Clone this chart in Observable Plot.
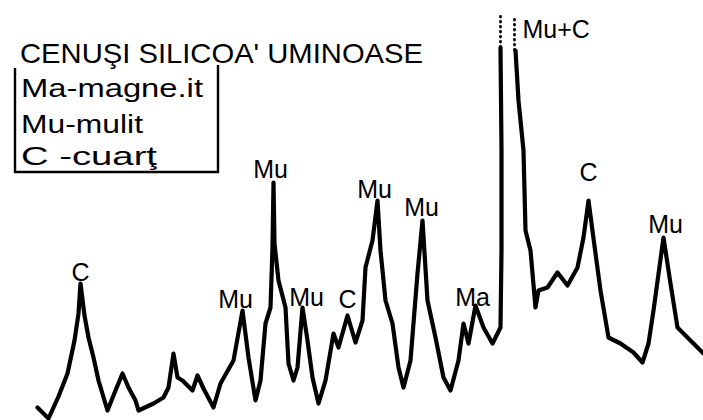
<!DOCTYPE html>
<html>
<head>
<meta charset="utf-8">
<script src="https://cdn.jsdelivr.net/npm/d3@7"></script>
<script src="https://cdn.jsdelivr.net/npm/@observablehq/plot@0.6"></script>
<style>
  html, body { margin: 0; padding: 0; background: #fff; }
  #chart { width: 703px; height: 420px; }
</style>
</head>
<body>
<div id="chart"></div>
<script>
// Diffractogram of silico-aluminous fly ash: scan position vs. intensity (counts)
const scanPos = [
  37, 48, 58, 67, 74, 78, 80, 84, 88, 93, 98, 107, 115, 122, 128, 135, 138, 153, 163, 168,
  173, 177, 182, 192, 197, 203, 213, 220, 233, 242, 248, 255, 260, 265, 270, 272, 273, 274, 278, 285,
  288, 293, 297, 302, 307, 312, 318, 325, 333, 338, 347, 355, 362, 365, 372, 377, 380, 385, 392, 398,
  403, 410, 417, 422, 427, 435, 443, 450, 458, 463, 468, 475, 483, 492, 500, 501, 501, 500,
  507,
  515, 518, 523, 525, 530, 535, 538, 547, 557, 567, 577, 583, 588, 595, 600, 608, 620, 633, 642, 648,
  653, 663, 670, 677, 690, 703
];
const counts = [
  13, 2, 24, 47, 80, 107, 137, 105, 83, 63, 40, 10, 30, 47, 33, 20, 10, 17, 23, 33,
  67, 43, 40, 30, 45, 32, 13, 37, 60, 110, 63, 20, 40, 97, 113, 173, 238, 177, 140, 113,
  57, 40, 53, 113, 80, 43, 17, 40, 87, 73, 105, 78, 100, 153, 180, 220, 170, 120, 97, 53,
  33, 60, 147, 200, 120, 83, 43, 30, 60, 97, 77, 115, 93, 77, 93, 170, 270, 373,
  null,
  370, 320, 270, 190, 170, 113, 130, 133, 148, 135, 153, 183, 220, 167, 130, 83, 77, 68, 58, 77,
  110, 183, 137, 93, 80, 67
];

// The strongest reflection runs off scale: its two flanks continue as dotted lines
const offScaleFlanks = [500, 514];
const offScaleFrom = [373, 370];
const chartTop = 405;

// Phase identification of the peaks
const peakLabels = ["C", "Mu", "Mu", "Mu", "C", "Mu", "Mu", "Ma", "C", "Mu"];
const peakPos    = [80, 235, 270, 306, 347, 374, 421, 472, 588, 665];
const labelLevel = [140, 113, 243, 115, 113, 223, 205, 115, 240, 188];
const mainPeakLabel = "Mu+C";
const mainPeakPos = 522;
const mainPeakLevel = 383;

const title = "CENUŞI SILICOA' UMINOASE";
const legendItems = ["Ma-magne.it", "Mu-mulit", "C -cuarţ"];

const scan = scanPos.map((x, i) => ({x, y: counts[i]}));
const flanks = offScaleFlanks.map((x, i) => ({x, y1: offScaleFrom[i], y2: chartTop}));
const peaks = peakLabels.map((label, i) => ({label, x: peakPos[i], y: labelLevel[i]}));

const font = "Liberation Sans, Arial, sans-serif";

const svg = Plot.plot({
  width: 703,
  height: 420,
  margin: 0,
  style: {background: "#fff", color: "#000", fontFamily: font},
  x: {domain: [0, 703], range: [0, 703], axis: null},
  y: {domain: [0, 420], range: [420, 0], axis: null},
  marks: [
    Plot.line(scan, {x: "x", y: "y", stroke: "#000", strokeWidth: 4.2,
      strokeLinejoin: "round", strokeLinecap: "round"}),
    Plot.ruleX(flanks, {x: "x", y1: "y1", y2: "y2", stroke: "#000", strokeWidth: 2.8,
      strokeDasharray: "0.5,4.5", strokeLinecap: "round"}),
    Plot.text(peaks, {x: "x", y: "y", text: "label", lineAnchor: "bottom",
      fontSize: 25, fill: "#000", fontFamily: font}),
    Plot.text([mainPeakLabel], {x: mainPeakPos, y: mainPeakLevel, text: d => d,
      textAnchor: "start", lineAnchor: "bottom", fontSize: 25, fill: "#000", fontFamily: font})
  ]
});

// Title and phase key
const g = d3.select(svg).append("g")
  .attr("font-family", font).attr("fill", "#000").attr("text-anchor", "start");
g.append("text").attr("x", 20).attr("y", 63).attr("font-size", 28)
  .attr("textLength", 403).attr("lengthAdjust", "spacingAndGlyphs").text(title);

const keyRows = [
  {y: 97, len: 182},
  {y: 133, len: 122},
  {y: 165, len: 136}
];
legendItems.forEach((t, i) => {
  g.append("text").attr("x", 21).attr("y", keyRows[i].y).attr("font-size", 26)
    .attr("textLength", keyRows[i].len).attr("lengthAdjust", "spacingAndGlyphs").text(t);
});
g.append("path")
  .attr("d", "M15,68 V172 H218 V65")
  .attr("fill", "none").attr("stroke", "#000").attr("stroke-width", 2.4);

document.getElementById("chart").appendChild(svg);
</script>
</body>
</html>
